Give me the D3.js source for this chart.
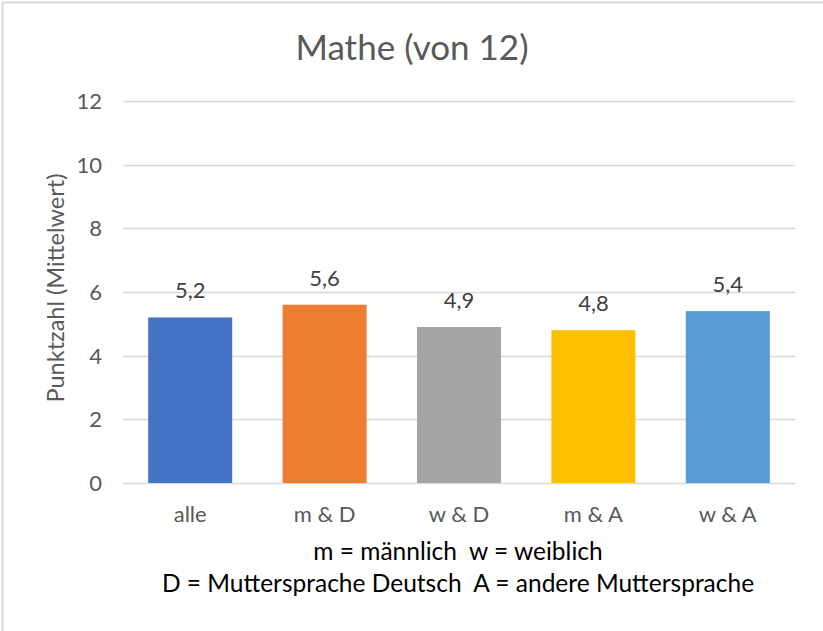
<!DOCTYPE html>
<html>
<head>
<meta charset="utf-8">
<script src="https://cdn.jsdelivr.net/npm/d3@7"></script>
<style>
    body { margin: 0; background: #fff; }
    svg text { font-family: Lato, "Open Sans", sans-serif; white-space: pre; }
</style>
</head>
<body>
<div id="chart"></div>
<script>
/*global d3*/
(function () {
    "use strict";
    var categories = ["alle", "m & D", "w & D", "m & A", "w & A"],
        values = [5.2, 5.6, 4.9, 4.8, 5.4],
        colors = ["#4472C4", "#ED7D31", "#A5A5A5", "#FFC000", "#5B9BD5"],
        yTicks = [0, 2, 4, 6, 8, 10, 12],
        footerLines = ["m = männlich  w = weiblich", "D = Muttersprache Deutsch  A = andere Muttersprache"],
        width = 823,
        height = 631,
        plot = {left: 123, right: 795, top: 101, bottom: 483},
        svg,
        xScale,
        yScale,
        fmt = function (v) { return v.toFixed(1).replace(".", ","); };

    svg = d3.select("#chart").append("svg")
        .attr("width", width)
        .attr("height", height);

    //chart border, cut off on the right and bottom like the screenshot
    svg.append("rect")
        .attr("x", 2.5).attr("y", 2.5)
        .attr("width", width + 10).attr("height", height + 10)
        .attr("fill", "#fff")
        .attr("stroke", "#d9d9d9")
        .attr("stroke-width", 2);

    xScale = d3.scaleBand()
        .domain(categories)
        .range([plot.left, plot.right])
        .paddingInner(0.375)
        .paddingOuter(0.1875);

    yScale = d3.scaleLinear()
        .domain([0, 12])
        .range([plot.bottom, plot.top]);

    //gridlines
    svg.append("g").selectAll("line")
        .data(yTicks)
        .enter().append("line")
        .attr("x1", plot.left).attr("x2", plot.right)
        .attr("y1", function (d) { return Math.round(yScale(d)) + 0.5; })
        .attr("y2", function (d) { return Math.round(yScale(d)) + 0.5; })
        .attr("stroke", "#d9d9d9")
        .attr("stroke-width", 1.3);

    //y axis labels
    svg.append("g").selectAll("text")
        .data(yTicks)
        .enter().append("text")
        .attr("x", 102)
        .attr("y", function (d) { return yScale(d) + 8; })
        .attr("text-anchor", "end")
        .attr("fill", "#595959")
        .attr("font-size", 22)
        .text(function (d) { return d; });

    //bars
    svg.append("g").selectAll("rect")
        .data(values)
        .enter().append("rect")
        .attr("x", function (d, i) { return xScale(categories[i]); })
        .attr("width", xScale.bandwidth())
        .attr("y", function (d) { return yScale(d); })
        .attr("height", function (d) { return yScale(0) - yScale(d); })
        .attr("fill", function (d, i) { return colors[i]; });

    //value labels
    svg.append("g").selectAll("text")
        .data(values)
        .enter().append("text")
        .attr("x", function (d, i) { return xScale(categories[i]) + xScale.bandwidth() / 2; })
        .attr("y", function (d) { return yScale(d) - 19; })
        .attr("text-anchor", "middle")
        .attr("fill", "#404040")
        .attr("font-size", 22)
        .text(fmt);

    //category labels
    svg.append("g").selectAll("text")
        .data(categories)
        .enter().append("text")
        .attr("x", function (d) { return xScale(d) + xScale.bandwidth() / 2; })
        .attr("y", 522)
        .attr("text-anchor", "middle")
        .attr("fill", "#595959")
        .attr("font-size", 22)
        .text(function (d) { return d; });

    //title
    svg.append("text")
        .attr("x", 412).attr("y", 60)
        .attr("text-anchor", "middle")
        .attr("fill", "#595959")
        .attr("font-size", 35)
        .text("Mathe (von 12)");

    //y axis title
    svg.append("text")
        .attr("transform", "translate(64,288) rotate(-90)")
        .attr("text-anchor", "middle")
        .attr("fill", "#595959")
        .attr("font-size", 23.5)
        .text("Punktzahl (Mittelwert)");

    //footer
    svg.append("g").selectAll("text")
        .data(footerLines)
        .enter().append("text")
        .attr("x", 458)
        .attr("y", function (d, i) { return 560 + i * 32; })
        .attr("text-anchor", "middle")
        .attr("fill", "#000")
        .attr("font-size", 24.5)
        .text(function (d) { return d; });
}());
</script>
</body>
</html>
